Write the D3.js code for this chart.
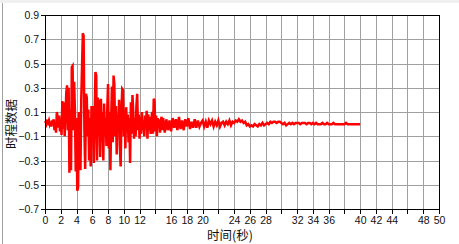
<!DOCTYPE html>
<html>
<head>
<meta charset="utf-8">
<script src="https://cdn.jsdelivr.net/npm/d3@7.9.0/dist/d3.min.js"></script>
<style>
  html, body { margin: 0; padding: 0; background: #fff; }
  svg { display: block; }
  .tick-label { font-family: "Liberation Sans", Arial, sans-serif; font-size: 10.5px; fill: #111; }
  .title { font-family: "Noto Sans CJK SC", sans-serif; font-size: 12.5px; fill: #111; }
</style>
</head>
<body>
<svg width="459" height="244"></svg>
<script>
// strong shaking part, sampled every 0.1 s from 0 s
const strongStep = 0.1;
const strongValues = [
  0.01, 0.02, 0.00, 0.02, 0.01, 0.03, 0.00, 0.02, -0.02, 0.03,
  0.00, 0.04, -0.05, 0.02, -0.07, 0.10, 0.06, -0.03, 0.07, -0.06,
  0.03, -0.09, 0.19, -0.04, 0.18, -0.10, 0.08, 0.26, 0.32, -0.05,
  0.30, -0.40, 0.12, -0.38, 0.47, 0.48, -0.05, 0.35, 0.10, -0.39,
  0.05, -0.55, -0.52, 0.10, -0.20, -0.38, 0.20, 0.47, 0.75, 0.73,
  -0.05, -0.37, 0.25, 0.22, -0.10, 0.12, -0.30, 0.05, -0.35, 0.15,
  -0.10, 0.15, -0.32, 0.05, 0.43, 0.40, -0.30, 0.22, -0.05, 0.20,
  -0.27, 0.21, -0.15, 0.10, -0.30, 0.17, -0.10, 0.05, -0.18, 0.12,
  0.33, -0.20, 0.10, -0.38, 0.05, 0.31, -0.15, 0.40, 0.33, -0.10,
  0.15, -0.25, 0.08, -0.05, 0.20, -0.18, -0.35, 0.10, 0.29, 0.28,
  -0.10, 0.12, -0.20, 0.14, -0.05, 0.08, -0.15, 0.05, -0.32, 0.18,
  -0.08, 0.24, 0.10, -0.12, 0.05, -0.10, 0.15, 0.25, -0.05, 0.08,
  -0.12, 0.06, -0.08, 0.10, -0.05, 0.03, -0.10, 0.07, -0.04, 0.11,
  -0.12, 0.08, -0.05, 0.06, -0.08, 0.04, 0.10, -0.08, 0.21, 0.19,
  -0.06, 0.07, -0.10, 0.05, -0.02, 0.04, -0.07, 0.03, 0.06, -0.05
];

// decaying tail, sampled every 0.2 s from 15 s to 40 s
const tailStart = 15;
const tailStep = 0.2;
const tailValues = [
  0.05, -0.07, 0.04, -0.05, 0.03, -0.06, 0.05, -0.03, 0.04, -0.05,
  0.06, -0.04, 0.03, -0.05, 0.04, -0.02, 0.05, -0.04, 0.02, -0.03,
  0.04, -0.03, 0.03, -0.02, 0.01, 0.03, -0.02, 0.02, -0.03, 0.03,
  0.00, 0.03, -0.02, 0.02, -0.01, 0.03, -0.02, 0.01, 0.02, -0.01,
  0.02, 0.00, 0.03, -0.01, 0.02, 0.01, 0.03, 0.02, 0.04, 0.02,
  0.03, 0.01, 0.02, -0.01, 0.00, -0.02, -0.01, -0.02, 0.00, -0.01,
  -0.02, 0.00, -0.01, 0.01, -0.01, 0.00, 0.01, 0.00, 0.02, 0.01,
  0.02, 0.02, 0.01, 0.02, 0.02, 0.01, 0.00, 0.01, -0.01, 0.00,
  0.01, 0.00, 0.01, 0.00, 0.01, 0.01, 0.01, 0.00, 0.01, 0.01,
  0.01, 0.00, 0.01, 0.01, 0.00, 0.01, 0.00, 0.01, 0.00, 0.00,
  0.00, 0.01, 0.00, 0.00, 0.01, 0.00, 0.00, 0.00, 0.01, 0.00,
  0.00, 0.00, 0.00, 0.00, 0.00, 0.00, 0.01, 0.00, 0.00, 0.00,
  0.00, 0.00, 0.00, 0.00, 0.00, 0.00
];

const xTickLabels = [0, 2, 4, 6, 8, 10, 12, 16, 18, 20, 24, 26, 28, 32, 34, 36, 40, 42, 44, 48, 50];
const yTickLabels = [-0.7, -0.5, -0.3, -0.1, 0.1, 0.3, 0.5, 0.7, 0.9];
const xTitle = '时间(秒)';
const yTitle = '时程数据';

const points = strongValues.map((v, i) => [i * strongStep, v])
  .concat(tailValues.map((v, i) => [tailStart + i * tailStep, v]));

const svg = d3.select('svg');
const plotLeft = 45, plotRight = 439, plotTop = 15, plotBottom = 209;

let x = d3.scaleLinear().domain([0, 50]).range([plotLeft, plotRight]);
let y = d3.scaleLinear().domain([-0.7, 0.9]).range([plotBottom, plotTop]);

// window frame bits
svg.append('rect').attr('x', 0).attr('y', 0).attr('width', 459).attr('height', 3).attr('fill', '#f0f0f0');
svg.append('line').attr('x1', 2.5).attr('x2', 2.5).attr('y1', 3).attr('y2', 244).attr('stroke', '#a0a0a0');

// grid
const gridX = d3.range(2, 50, 2);
const gridY = yTickLabels.slice(1, -1);
svg.append('g').selectAll('line').data(gridX).join('line')
  .attr('x1', (d) => Math.round(x(d)) + 0.5).attr('x2', (d) => Math.round(x(d)) + 0.5)
  .attr('y1', plotTop).attr('y2', plotBottom)
  .attr('stroke', '#a0a0a0');
svg.append('g').selectAll('line').data(gridY).join('line')
  .attr('y1', (d) => Math.round(y(d)) + 0.5).attr('y2', (d) => Math.round(y(d)) + 0.5)
  .attr('x1', plotLeft).attr('x2', plotRight)
  .attr('stroke', '#a0a0a0');

// data line
let line = d3.line().x((d) => x(d[0])).y((d) => y(d[1]));
svg.append('path')
  .datum(points)
  .attr('d', line)
  .attr('fill', 'none')
  .attr('stroke', '#ff0000')
  .attr('stroke-width', 2.5)
  .attr('stroke-linejoin', 'miter');

// plot border
svg.append('rect')
  .attr('x', plotLeft + 0.5).attr('y', plotTop + 0.5)
  .attr('width', plotRight - plotLeft).attr('height', plotBottom - plotTop)
  .attr('fill', 'none').attr('stroke', '#000');

// x axis ticks + labels
const xAxis = svg.append('g');
xAxis.selectAll('line').data(d3.range(0, 51, 2)).join('line')
  .attr('x1', (d) => Math.round(x(d)) + 0.5).attr('x2', (d) => Math.round(x(d)) + 0.5)
  .attr('y1', plotBottom).attr('y2', plotBottom + 5)
  .attr('stroke', '#000');
xAxis.selectAll('text').data(xTickLabels).join('text')
  .attr('class', 'tick-label')
  .attr('x', (d) => x(d) + 0.5).attr('y', 224)
  .attr('text-anchor', 'middle')
  .text((d) => d);

// y axis ticks + labels
const yAxis = svg.append('g');
yAxis.selectAll('line').data(yTickLabels).join('line')
  .attr('y1', (d) => Math.round(y(d)) + 0.5).attr('y2', (d) => Math.round(y(d)) + 0.5)
  .attr('x1', plotLeft - 4).attr('x2', plotLeft)
  .attr('stroke', '#000');
yAxis.selectAll('text').data(yTickLabels).join('text')
  .attr('class', 'tick-label')
  .attr('x', 39).attr('y', (d) => y(d) + 4)
  .attr('text-anchor', 'end')
  .text((d) => d3.format('.1f')(d));

// titles
svg.append('text').attr('class', 'title')
  .attr('x', 230).attr('y', 240)
  .attr('text-anchor', 'middle')
  .text(xTitle);
svg.append('text').attr('class', 'title')
  .attr('transform', 'translate(16,124) rotate(-90)')
  .attr('text-anchor', 'middle')
  .text(yTitle);
</script>
</body>
</html>
